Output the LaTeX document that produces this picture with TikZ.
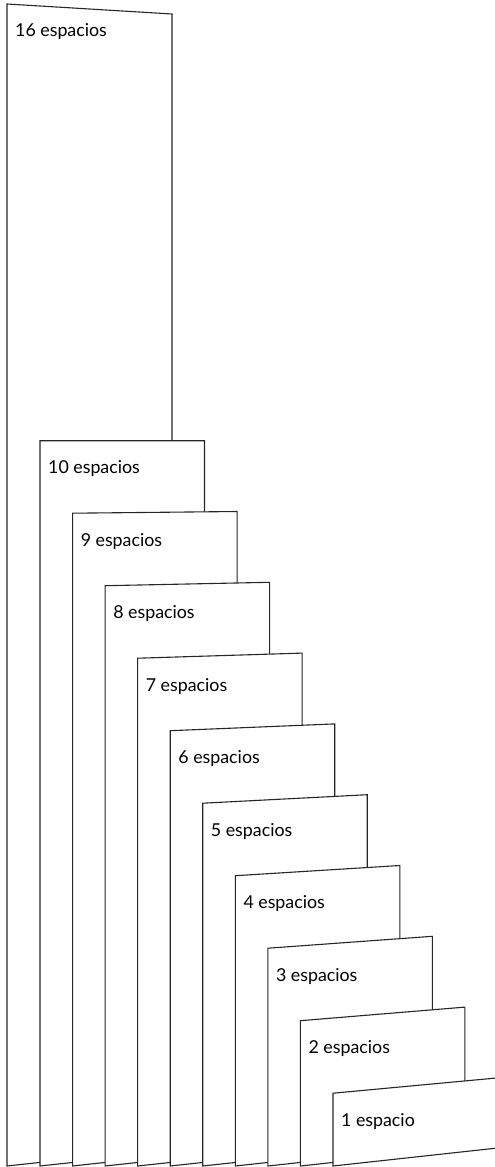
\documentclass[tikz,border=0pt]{standalone}
\usepackage{fontspec}
\setmainfont{Lato}
\usetikzlibrary{positioning}
\tikzset{
  hoja/.style={draw=black!85,line width=1.1pt,fill=white,line join=miter},
  rotulo/.style={anchor=west,inner sep=0pt,font=\fontsize{17.8}{20}\selectfont},
}

\begin{document}
\begin{tikzpicture}[x=1pt,y=-1pt]
  \useasboundingbox (0,0) rectangle (495,1167);
  \clip (0,0) rectangle (495,1167);
  \def\W{164.5}  % sheet width
  \def\B{1166}   % common bottom line
  % --- back sheet (16) ---
  \draw[hoja] (7,\B) -- (7,4) -- (172,14) -- (172,\B-18) -- cycle;
  \node[rotulo] (lbl16) at (15,32) {16 espacios};
  % --- front sheets, 10 down to 1 ---
  \foreach \i in {0,...,9}{
    \pgfmathsetmacro{\xl}{40+32.55*\i}
    \pgfmathsetmacro{\yt}{440.7+72.5*\i}
    \pgfmathtruncatemacro{\n}{10-\i}
    \draw[hoja] (\xl,\B) -- (\xl,\yt) -- (\xl+\W,\yt-1.7*\i) -- (\xl+\W,\B-18) -- cycle;
    \node[rotulo] (lbl\n) at (\xl+8,\yt+28)
      {\ifnum\n=1 1 espacio\else\n\ espacios\fi};
  }
\end{tikzpicture}
\end{document}
